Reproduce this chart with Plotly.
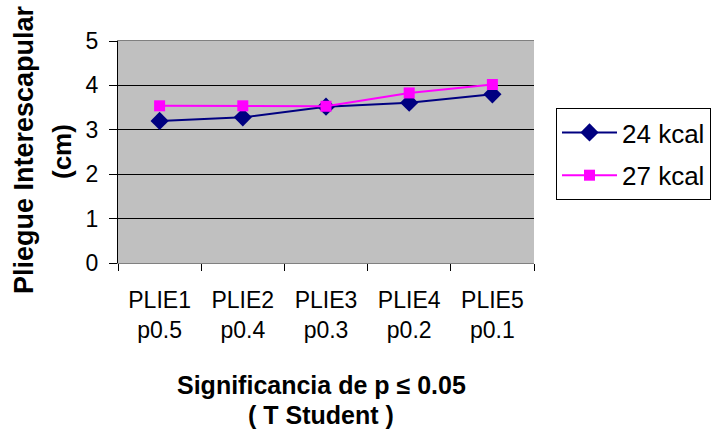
import plotly.graph_objects as go

categories = ["PLIE1<br>p0.5", "PLIE2<br>p0.4", "PLIE3<br>p0.3", "PLIE4<br>p0.2", "PLIE5<br>p0.1"]
kcal24 = [3.2, 3.28, 3.52, 3.61, 3.8]
kcal27 = [3.54, 3.54, 3.53, 3.83, 4.02]
y_ticks = [0, 1, 2, 3, 4, 5]

FONT = "Liberation Sans, Arial, sans-serif"

# pixel geometry of the plot area
L, R, T, B = 118, 534, 41, 263
W, H = 712, 437
def px(x):
    return (x - L) / (R - L)
def py(y):
    return (B - y) / (B - T)

fig = go.Figure()
fig.add_trace(go.Scatter(
    x=categories, y=kcal24, name="24 kcal", mode="lines+markers",
    line=dict(color="#000080", width=2),
    marker=dict(symbol="diamond", size=14, color="#000080"),
    legendgroup="a"))
fig.add_trace(go.Scatter(
    x=categories, y=kcal27, name="27 kcal", mode="lines+markers",
    line=dict(color="#FF00FF", width=2),
    marker=dict(symbol="square", size=11, color="#FF00FF"),
    legendgroup="b"))

fig.update_layout(
    width=W, height=H,
    margin=dict(l=L, r=W - R, t=T, b=H - B, autoexpand=False),
    paper_bgcolor="white", plot_bgcolor="#C0C0C0",
    font=dict(family=FONT, size=23, color="black"),
    showlegend=True,
    legend=dict(x=px(556), y=py(108), xanchor="left", yanchor="top",
                bgcolor="white", bordercolor="black", borderwidth=1,
                font=dict(size=26), traceorder="grouped", tracegroupgap=6,
                itemwidth=55),
    xaxis=dict(type="category", range=[-0.5, 4.5], showgrid=False,
               ticks="outside", tickson="boundaries", ticklen=7, tickcolor="black",
               showline=True, linecolor="#808080", linewidth=1, mirror=True,
               tickfont=dict(size=23), ticklabelstandoff=16, zeroline=False,
               automargin=False),
    yaxis=dict(range=[0, 5], tickvals=y_ticks, showgrid=True, gridcolor="black",
               gridwidth=1, ticks="outside", ticklen=8, tickcolor="black",
               showline=True, linecolor="black", linewidth=1,
               tickfont=dict(size=23), ticklabelstandoff=6, zeroline=False,
               automargin=False),
    annotations=[
        dict(text="<b>Pliegue Interescapular</b>", xref="paper", yref="paper",
             x=px(24), y=py(150), textangle=-90, showarrow=False,
             xanchor="center", yanchor="middle", font=dict(size=27)),
        dict(text="<b>(cm)</b>", xref="paper", yref="paper",
             x=px(62), y=py(152), textangle=-90, showarrow=False,
             xanchor="center", yanchor="middle", font=dict(size=26)),
        dict(text="<b>Significancia de p ≤ 0.05</b>", xref="paper", yref="paper",
             x=px(321), y=py(385), showarrow=False,
             xanchor="center", yanchor="middle", font=dict(size=25)),
        dict(text="<b>( T Student )</b>", xref="paper", yref="paper",
             x=px(321), y=py(415), showarrow=False,
             xanchor="center", yanchor="middle", font=dict(size=25)),
    ],
)

fig.write_html("out.html")
